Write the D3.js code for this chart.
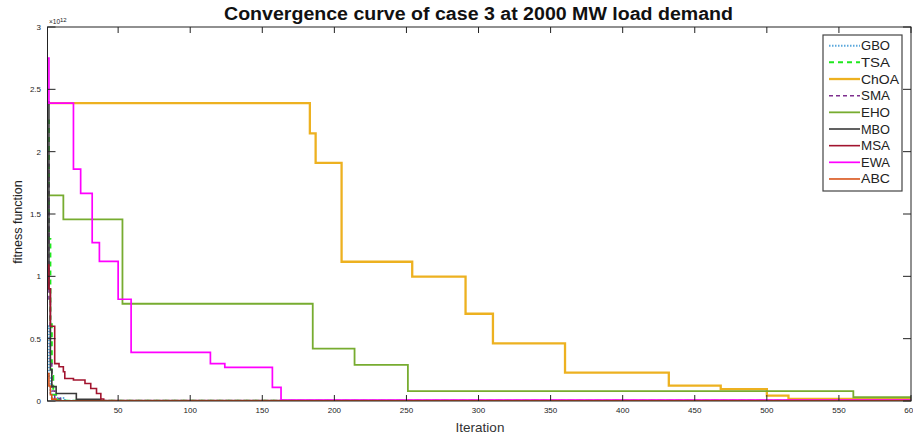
<!DOCTYPE html>
<html><head><meta charset="utf-8">
<script src="https://cdn.jsdelivr.net/npm/d3@7"></script>
<style>body{margin:0;background:#fff}svg{display:block}text{font-family:Arial,"Liberation Sans",sans-serif}</style>
</head><body><svg id="c" width="913" height="437"></svg>
<script>
// Data: [iteration, fitness (x1e12)] breakpoints; value holds until next breakpoint
const seriesNames = ["GBO","TSA","ChOA","SMA","EHO","MBO","MSA","EWA","ABC"];
const GBO  = [[1,0.6],[2,0.2],[3,0.05],[4,0.025],[13,0.003],[600,0.003]];
const TSA  = [[1,2.25],[2,1.3],[3,0.65],[4,0.2],[5,0.05],[7,0.01],[10,0.002],[600,0.002]];
const ChOA = [[1,2.39],[183,2.147],[187,1.91],[205,1.117],[254,0.997],[291,0.70],[310,0.463],[360,0.227],[432,0.123],[468,0.096],[500,0.043],[515,0.016],[600,0.016]];
const SMA  = [[1,1.9],[2,0.8],[3,0.3],[4,0.08],[6,0.02],[10,0.003],[600,0.003]];
const EHO  = [[1,1.65],[12,1.457],[53,0.78],[185,0.42],[214,0.29],[251,0.08],[560,0.03],[600,0.03]];
const MBO  = [[1,2.4],[2,0.9],[3,0.25],[4,0.115],[7,0.06],[21,0.013],[38,0.002],[600,0.002]];
const MSA  = [[1,1.09],[2,0.9],[3,0.6],[6,0.30],[9,0.275],[12,0.235],[13,0.18],[19,0.168],[27,0.14],[31,0.10],[35,0.06],[38,0.016],[40,0.003],[600,0.003]];
const EWA  = [[1,2.75],[2,2.39],[19,1.86],[24,1.665],[32,1.27],[37,1.12],[50,0.816],[59,0.39],[114,0.30],[124,0.27],[157,0.11],[163,0.008],[600,0.008]];
const ABC  = [[1,0.22],[2,0.12],[3,0.05],[4,0.015],[7,0.002],[600,0.002]];
const xTicks = [50,100,150,200,250,300,350,400,450,500,550,600];
const yTicks = [0,0.5,1,1.5,2,2.5,3];
const yTickLabels = ["0","0.5","1","1.5","2","2.5","3"];

const data = [GBO,TSA,ChOA,SMA,EHO,MBO,MSA,EWA,ABC];
const styles = [
  {c:"#5BA8DC",w:2,d:"1.5,1.5"},
  {c:"#1EE81E",w:2,d:"5,4"},
  {c:"#EDB120",w:2.3,d:null},
  {c:"#7E2F8E",w:1.5,d:"4,3"},
  {c:"#77AC30",w:1.8,d:null},
  {c:"#3a3a3a",w:1.6,d:null},
  {c:"#A2142F",w:1.6,d:null},
  {c:"#FF00FF",w:1.7,d:null},
  {c:"#D95319",w:1.6,d:null}
];

const svg = d3.select("#c");
const L=47.5,R=911,T=27,B=401;
const x = d3.scaleLinear().domain([1,600]).range([L,R]);
const y = d3.scaleLinear().domain([0,3]).range([B,T]);

svg.append("clipPath").attr("id","clip").append("rect").attr("x",L).attr("y",T).attr("width",R-L).attr("height",B-T);

const line = d3.line().x(d=>x(d[0])).y(d=>y(d[1])).curve(d3.curveStepAfter);
const g = svg.append("g").attr("clip-path","url(#clip)");
data.forEach((s,i)=>{
  g.append("path").attr("d",line(s)).attr("fill","none")
   .attr("stroke",styles[i].c).attr("stroke-width",styles[i].w)
   .attr("stroke-dasharray",styles[i].d);
});

// axes (MATLAB box style, inward ticks)
const ax = svg.append("g").attr("stroke","#222").attr("stroke-width",1).attr("fill","none");
ax.append("rect").attr("x",L).attr("y",T).attr("width",R-L).attr("height",B-T);
xTicks.forEach(t=>{
  ax.append("line").attr("x1",x(t)).attr("x2",x(t)).attr("y1",B).attr("y2",B-6);
  ax.append("line").attr("x1",x(t)).attr("x2",x(t)).attr("y1",T).attr("y2",T+6);
});
yTicks.forEach(t=>{
  ax.append("line").attr("x1",L).attr("x2",L+8).attr("y1",y(t)).attr("y2",y(t));
  ax.append("line").attr("x1",R).attr("x2",R-8).attr("y1",y(t)).attr("y2",y(t));
});
svg.append("g").selectAll("text").data(xTicks).join("text")
  .attr("x",d=>x(d)).attr("y",413).attr("text-anchor","middle")
  .attr("font-size",8).attr("fill","#222").text(d=>d);
svg.append("g").selectAll("text").data(yTicks).join("text")
  .attr("x",41).attr("y",d=>y(d)+3).attr("text-anchor","end")
  .attr("font-size",8).attr("fill","#222").text((d,i)=>yTickLabels[i]);
const ex = svg.append("text").attr("x",49).attr("y",24).attr("font-size",6.5).attr("fill","#222");
ex.append("tspan").text("\u00d710");
ex.append("tspan").attr("dy",-2.5).attr("font-size",6).text("12");

svg.append("text").attr("x",478.5).attr("y",20).attr("text-anchor","middle")
  .attr("font-size",17.5).attr("font-weight","bold").attr("fill","#111")
  .attr("textLength",509).attr("lengthAdjust","spacingAndGlyphs")
  .text("Convergence curve of case 3 at 2000 MW load demand");
svg.append("text").attr("x",480).attr("y",432).attr("text-anchor","middle")
  .attr("font-size",13.5).attr("fill","#333").text("Iteration");
svg.append("text").attr("transform","translate(22,222) rotate(-90)").attr("text-anchor","middle")
  .attr("font-size",12.5).attr("fill","#222").text("fitness function");

// legend
const lg = svg.append("g");
lg.append("rect").attr("x",823).attr("y",35).attr("width",79).attr("height",156)
  .attr("fill","#fff").attr("stroke","#444").attr("stroke-width",1.2);
seriesNames.forEach((n,i)=>{
  const yy = 45.7 + i*16.66;
  lg.append("line").attr("x1",829).attr("x2",860).attr("y1",yy).attr("y2",yy)
    .attr("stroke",styles[i].c).attr("stroke-width",styles[i].w).attr("stroke-dasharray",styles[i].d);
  lg.append("text").attr("x",861).attr("y",yy+4.5).attr("font-size",12.5).attr("fill","#222")
    .attr("textLength",n.length>3?38:29).attr("lengthAdjust","spacingAndGlyphs").text(n);
});
</script></body></html>
